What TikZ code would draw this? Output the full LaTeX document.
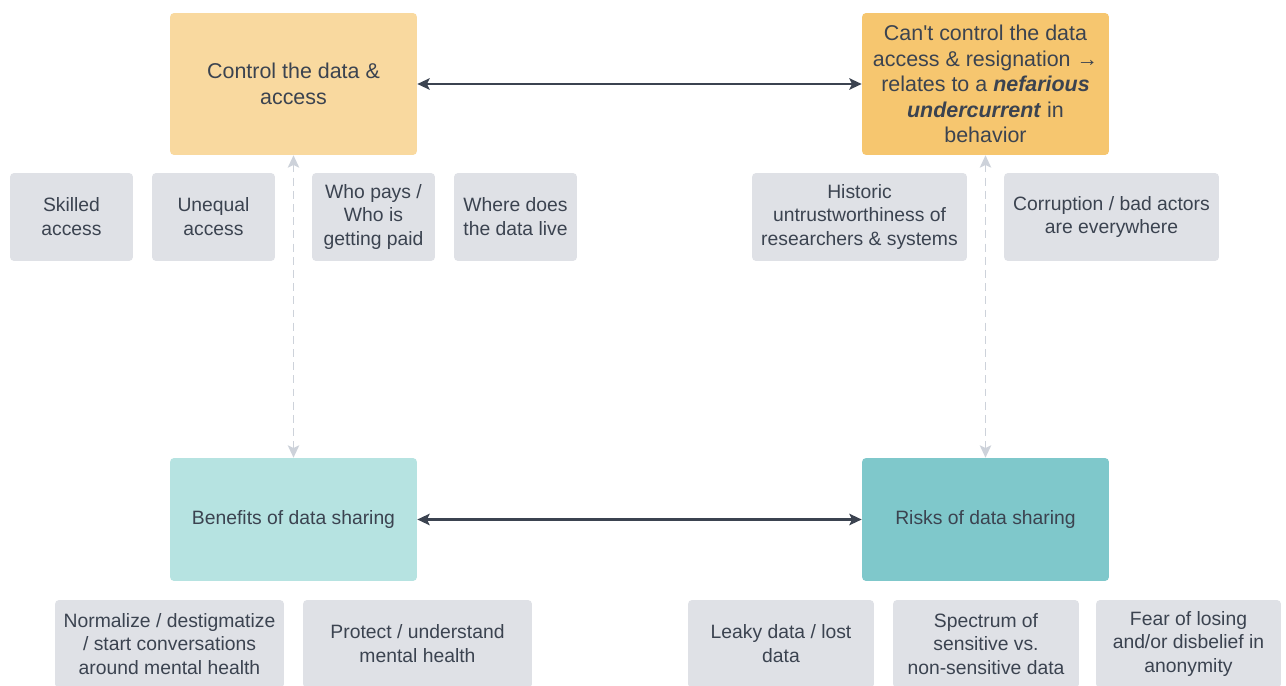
\documentclass[tikz,border=0pt]{standalone}
\usepackage{fontspec}
\setmainfont{Liberation Sans}
\usetikzlibrary{arrows.meta}
\definecolor{inkgray}{HTML}{3B4350}
\definecolor{ctrlfill}{HTML}{F9D99F}
\definecolor{nofill}{HTML}{F6C66F}
\definecolor{benefill}{HTML}{B6E3E1}
\definecolor{riskfill}{HTML}{7FC8CB}
\definecolor{notefill}{HTML}{DFE1E6}
\definecolor{dashgray}{HTML}{CDD2DA}
\begin{document}
\begin{tikzpicture}[x=0.02cm, y=-0.02cm,
    every node/.style={text=inkgray, align=center, rounded corners=2.3pt},
    bigbox/.style={minimum width=4.94cm, font=\fontsize{12.2}{14.6}\selectfont},
    smallbox/.style={bigbox, minimum height=2.46cm, font=\fontsize{11}{13.6}\selectfont},
    note/.style={fill=notefill, minimum height=1.76cm, font=\fontsize{11}{13.6}\selectfont},
    link/.style={{Stealth[length=7pt,width=6.5pt,inset=1.5pt]}-{Stealth[length=7pt,width=6.5pt,inset=1.5pt]}, inkgray, line width=1.2pt},
    weaklink/.style={{Stealth[length=7pt,width=6.5pt,inset=1.5pt]}-{Stealth[length=7pt,width=6.5pt,inset=1.5pt]}, dashgray, line width=0.85pt, dash pattern=on 4.5pt off 3pt}]
  \useasboundingbox[fill=white] (0,0) rectangle (1286,686);

  % main boxes
  \node[bigbox, fill=ctrlfill, minimum height=2.84cm] (control) at (293.5,84) {Control the data \&\\access};
  \node[bigbox, fill=nofill, minimum height=2.84cm] (nocontrol) at (985.5,84) {Can\textquotesingle t control the data\\access \& resignation →\\relates to a \textbf{\textit{nefarious}}\\\textbf{\textit{undercurrent}} in\\behavior};
  \node[smallbox, fill=benefill] (benefits) at (293.5,519.5) {Benefits of data sharing};
  \node[smallbox, fill=riskfill] (risks) at (985.5,519.5) {Risks of data sharing};

  % notes
  \node[note, minimum width=2.46cm] (skilled) at (71.5,217) {Skilled\\access};
  \node[note, minimum width=2.46cm] (unequal) at (213.5,217) {Unequal\\access};
  \node[note, minimum width=2.46cm] (whopays) at (373.5,217) {Who pays /\\Who is\\getting paid};
  \node[note, minimum width=2.46cm] (wherelive) at (515.5,217) {Where does\\the data live};
  \node[note, minimum width=4.3cm] (historic) at (859.5,217) {Historic\\untrustworthiness of\\researchers \& systems};
  \node[note, minimum width=4.3cm] (corruption) at (1111.5,217) {Corruption / bad actors\\are everywhere};
  \node[note, minimum width=4.58cm] (normalize) at (169.5,644) {Normalize / destigmatize\\/ start conversations\\around mental health};
  \node[note, minimum width=4.58cm] (protect) at (417.5,644) {Protect / understand\\mental health};
  \node[note, minimum width=3.72cm] (leaky) at (781,644) {Leaky data / lost\\data};
  \node[note, minimum width=3.72cm] (spectrum) at (986,644) {Spectrum of\\sensitive vs.\\non-sensitive data};
  \node[note, minimum width=3.7cm] (fear) at (1188.5,644) {Fear of losing\\and/or disbelief in\\anonymity};

  % connectors
  \draw[link] (control) -- (nocontrol);
  \draw[link] (benefits) -- (risks);
  \draw[weaklink] (control) -- (benefits);
  \draw[weaklink] (nocontrol) -- (risks);
\end{tikzpicture}
\end{document}
